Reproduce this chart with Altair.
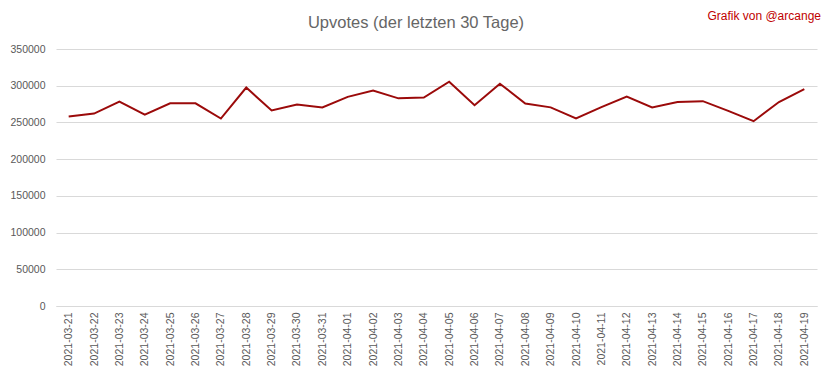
import altair as alt
import pandas as pd

dates = [
    "2021-03-21", "2021-03-22", "2021-03-23", "2021-03-24", "2021-03-25",
    "2021-03-26", "2021-03-27", "2021-03-28", "2021-03-29", "2021-03-30",
    "2021-03-31", "2021-04-01", "2021-04-02", "2021-04-03", "2021-04-04",
    "2021-04-05", "2021-04-06", "2021-04-07", "2021-04-08", "2021-04-09",
    "2021-04-10", "2021-04-11", "2021-04-12", "2021-04-13", "2021-04-14",
    "2021-04-15", "2021-04-16", "2021-04-17", "2021-04-18", "2021-04-19",
]
upvotes = [
    258000, 262000, 278500, 260500, 276000,
    276000, 255300, 297500, 266300, 274500,
    270500, 284800, 293500, 282800, 283800,
    305500, 273500, 302700, 275800, 270500,
    255500, 270800, 285300, 270500, 277800,
    279000, 265800, 251700, 277800, 295500,
]
y_ticks = [0, 50000, 100000, 150000, 200000, 250000, 300000, 350000]
title_text = ["Upvotes (der letzten 30 Tage)"]
credit_text = ["Grafik von @arcange"]

df = pd.DataFrame({"date": dates, "upvotes": upvotes})

FONT = "Liberation Sans"
GREY = "#595959"

line = alt.Chart(df).mark_line(color="#9B0A0A", strokeWidth=2).encode(
    x=alt.X(
        "date:O",
        sort=None,
        title=None,
        scale=alt.Scale(type="point", padding=0.5),
        axis=alt.Axis(
            labelAngle=270,
            labelFontSize=10.5,
            labelColor=GREY,
            labelFont=FONT,
            ticks=False,
            domain=True,
            domainColor="#D9D9D9",
            labelPadding=6,
            grid=False,
        ),
    ),
    y=alt.Y(
        "upvotes:Q",
        title=None,
        scale=alt.Scale(domain=[0, 350000], nice=False),
        axis=alt.Axis(
            values=y_ticks,
            format="d",
            labelFontSize=10.5,
            labelColor=GREY,
            labelFont=FONT,
            ticks=False,
            domain=False,
            gridColor="#D9D9D9",
            labelPadding=11,
        ),
    ),
)

title = alt.Chart(pd.DataFrame({"t": title_text})).mark_text(
    font=FONT, fontSize=16.5, color="#666666", align="center", baseline="middle"
).encode(x=alt.value(360), y=alt.value(-26), text="t:N")

credit = alt.Chart(pd.DataFrame({"t": credit_text})).mark_text(
    font=FONT, fontSize=12, color="#C00000", align="right", baseline="middle"
).encode(x=alt.value(765), y=alt.value(-33), text="t:N")

chart = alt.layer(line, title, credit).properties(
    width=761,
    height=257,
    autosize=alt.AutoSizeParams(type="none"),
    padding={"left": 48, "top": 41, "right": 6, "bottom": 64},
    background="white",
).configure_view(stroke=None)

chart.save("out.html", embed_options={"renderer": "svg", "actions": False})
